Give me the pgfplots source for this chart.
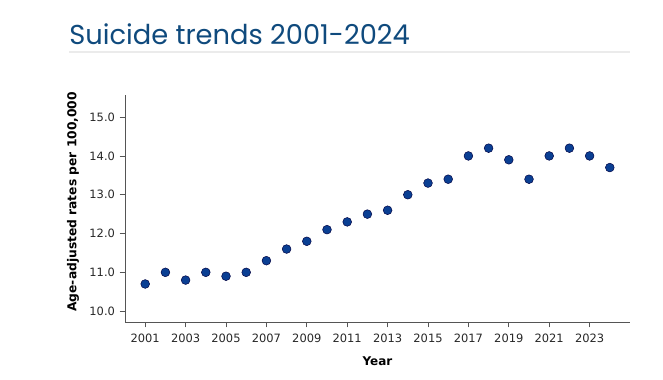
\documentclass[border=0pt]{standalone}
\usepackage{pgfplots}
\pgfplotsset{compat=1.18}
\usepackage{fontspec}
\setmainfont{DejaVu Sans}
\newfontfamily\titlefont{Poppins}
\definecolor{titleblue}{HTML}{0F4A7D}
\definecolor{ptblue}{HTML}{0A3F93}
\definecolor{spine}{HTML}{555555}
\begin{document}
\begin{tikzpicture}[x=0.75pt,y=0.75pt]
\useasboundingbox (0,0) rectangle (663,379);
\node[anchor=base west,inner sep=0pt,font=\titlefont\fontsize{20.5}{24}\selectfont,text=titleblue] at (69,334) {Suicide trends 2001-2024};
\draw[color=black!8,line width=1.1pt] (69,327) -- (630,327);
\begin{axis}[
  at={(125*0.75pt,57*0.75pt)}, anchor=south west,
  scale only axis, width=378.75pt, height=170.25pt,
  xmin=2000, xmax=2025, ymin=9.72, ymax=15.57,
  axis lines*=left,
  axis line style={spine, line width=0.6pt},
  tick align=outside, tick style={spine, line width=0.5pt, major tick length=4pt},
  xtick={2001,2003,...,2023},
  ytick={10,11,...,15},
  /pgf/number format/assume math mode=true,
  xticklabel style={/pgf/number format/1000 sep={}, font=\fontsize{8.6}{10}\selectfont, text=black!85, yshift=-1.5pt},
  yticklabel style={/pgf/number format/fixed, /pgf/number format/fixed zerofill, /pgf/number format/precision=1, font=\fontsize{8.6}{10}\selectfont, text=black!85},
  xlabel={\textbf{Year}}, ylabel={\textbf{Age-adjusted rates per 100,000}},
  xlabel style={font=\fontsize{9}{10}\selectfont, yshift=-3.5pt},
  ylabel style={font=\fontsize{9.2}{10}\selectfont, yshift=1pt, xshift=5pt},
  clip=false,
]
\addplot[only marks, mark=*, mark size=3.3pt, mark options={fill=ptblue, draw=black!75!blue, line width=0.35pt}] coordinates {
(2001,10.7) (2002,11.0) (2003,10.8) (2004,11.0) (2005,10.9) (2006,11.0)
(2007,11.3) (2008,11.6) (2009,11.8) (2010,12.1) (2011,12.3) (2012,12.5)
(2013,12.6) (2014,13.0) (2015,13.3) (2016,13.4) (2017,14.0) (2018,14.2)
(2019,13.9) (2020,13.4) (2021,14.0) (2022,14.2) (2023,14.0) (2024,13.7)
};
\end{axis}
\end{tikzpicture}
\end{document}
